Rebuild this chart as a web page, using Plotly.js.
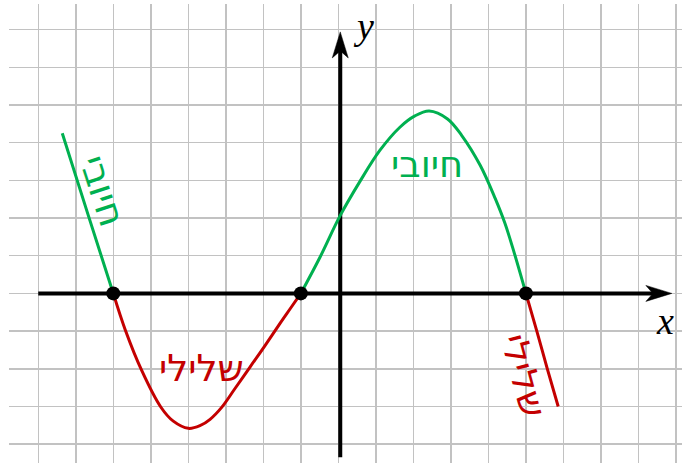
<!DOCTYPE html>
<html>
<head>
<meta charset="utf-8">
<script src="https://cdn.plot.ly/plotly-3.0.1.min.js"></script>
<style>html,body{margin:0;padding:0;background:#fff;}#chart{width:682px;height:463px;}</style>
</head>
<body>
<div id="chart"></div>
<script>
// Curve readings (grid units)
const greenLeftX = [-7.36, -6.66, -6];
const greenLeftY = [4.25, 2.05, 0];
const redMidX = [-6, -5.68, -5.24, -4.73, -4.40, -4.00, -3.69, -3.42, -3.10, -2.76, -2.36, -1.96, -1.56, -1.28, -1];
const redMidY = [0, -0.97, -2.05, -3.02, -3.39, -3.58, -3.51, -3.34, -3.01, -2.53, -1.96, -1.39, -0.80, -0.40, 0];
const greenMidX = [-1, -0.49, 0.04, 0.58, 1.11, 1.64, 2.04, 2.42, 2.91, 3.29, 3.78, 4.18, 4.44, 4.69, 5];
const greenMidY = [0, 0.96, 2.05, 2.98, 3.80, 4.41, 4.71, 4.84, 4.63, 4.19, 3.40, 2.52, 1.86, 1.07, 0];
const redRightX = [5, 5.29, 5.57, 5.86];
const redRightY = [0, -1, -2, -3];
const rootsX = [-6, -1, 5];
const rootsY = [0, 0, 0];

const labelTexts = ['חיובי', 'שלילי', 'חיובי', 'שלילי'];
const axisNames = ['x', 'y'];

const GREEN = '#00b050';
const RED = '#c40000';

function seg(x, y, c) {
  return {x: x, y: y, mode: 'lines', line: {color: c, width: 3, shape: 'spline', smoothing: 1}, hoverinfo: 'skip', showlegend: false};
}

const data = [
  seg(greenLeftX, greenLeftY, GREEN),
  seg(redMidX, redMidY, RED),
  seg(greenMidX, greenMidY, GREEN),
  seg(redRightX, redRightY, RED),
  {x: rootsX, y: rootsY, mode: 'markers', marker: {color: '#000', size: 14}, hoverinfo: 'skip', showlegend: false}
];

const hebFont = {family: 'DejaVu Sans, Liberation Sans, sans-serif', size: 37};
const axFont = {family: 'Liberation Serif, DejaVu Serif, serif', size: 38, color: '#000'};

const layout = {
  width: 682, height: 463,
  margin: {l: 9, r: 0, t: 4, b: 0},
  paper_bgcolor: '#fff', plot_bgcolor: '#fff',
  showlegend: false,
  xaxis: {range: [-8.78, 9.16], tick0: 0, dtick: 1, showgrid: true, gridcolor: '#c2c2c2', gridwidth: 1.5,
          zeroline: false, showticklabels: false, ticks: '', showline: false, fixedrange: true},
  yaxis: {range: [-4.5, 7.68], tick0: 0, dtick: 1, showgrid: true, gridcolor: '#c2c2c2', gridwidth: 1.5,
          zeroline: false, showticklabels: false, ticks: '', showline: false, fixedrange: true},
  shapes: [
    {type: 'line', xref: 'x', yref: 'y', x0: -8, y0: 0, x1: 8.6, y1: 0, line: {color: '#000', width: 4}, layer: 'between'},
    {type: 'line', xref: 'x', yref: 'y', x0: 0.05, y0: -4.35, x1: 0.05, y1: 6.7, line: {color: '#000', width: 4}, layer: 'between'},
    {type: 'path', xref: 'x', yref: 'y', xsizemode: 'pixel', ysizemode: 'pixel', xanchor: 8.89, yanchor: 0,
     path: 'M0,0 L-26,8 L-19,0 L-26,-8 Z', fillcolor: '#000', line: {color: '#000', width: 0.5}, layer: 'between'},
    {type: 'path', xref: 'x', yref: 'y', xsizemode: 'pixel', ysizemode: 'pixel', xanchor: 0.05, yanchor: 6.94,
     path: 'M0,0 L-8,-26 L0,-19 L8,-26 Z', fillcolor: '#000', line: {color: '#000', width: 0.5}, layer: 'between'}
  ],
  annotations: [
    {x: 2.37, y: 3.43, text: labelTexts[0], showarrow: false, font: Object.assign({}, hebFont, {color: GREEN})},
    {x: -3.66, y: -1.98, text: labelTexts[1], showarrow: false, font: Object.assign({}, hebFont, {color: RED})},
    {x: -6.3, y: 2.72, text: labelTexts[2], showarrow: false, textangle: 72, font: Object.assign({}, hebFont, {color: GREEN})},
    {x: 4.93, y: -2.18, text: labelTexts[3], showarrow: false, textangle: 75, font: Object.assign({}, hebFont, {color: RED})},
    {x: 8.70, y: -0.72, text: '<i>' + axisNames[0] + '</i>', showarrow: false, font: axFont},
    {x: 0.66, y: 7.1, text: '<i>' + axisNames[1] + '</i>', showarrow: false, font: axFont}
  ]
};

Plotly.newPlot('chart', data, layout, {displayModeBar: false, staticPlot: true});
</script>
</body>
</html>
